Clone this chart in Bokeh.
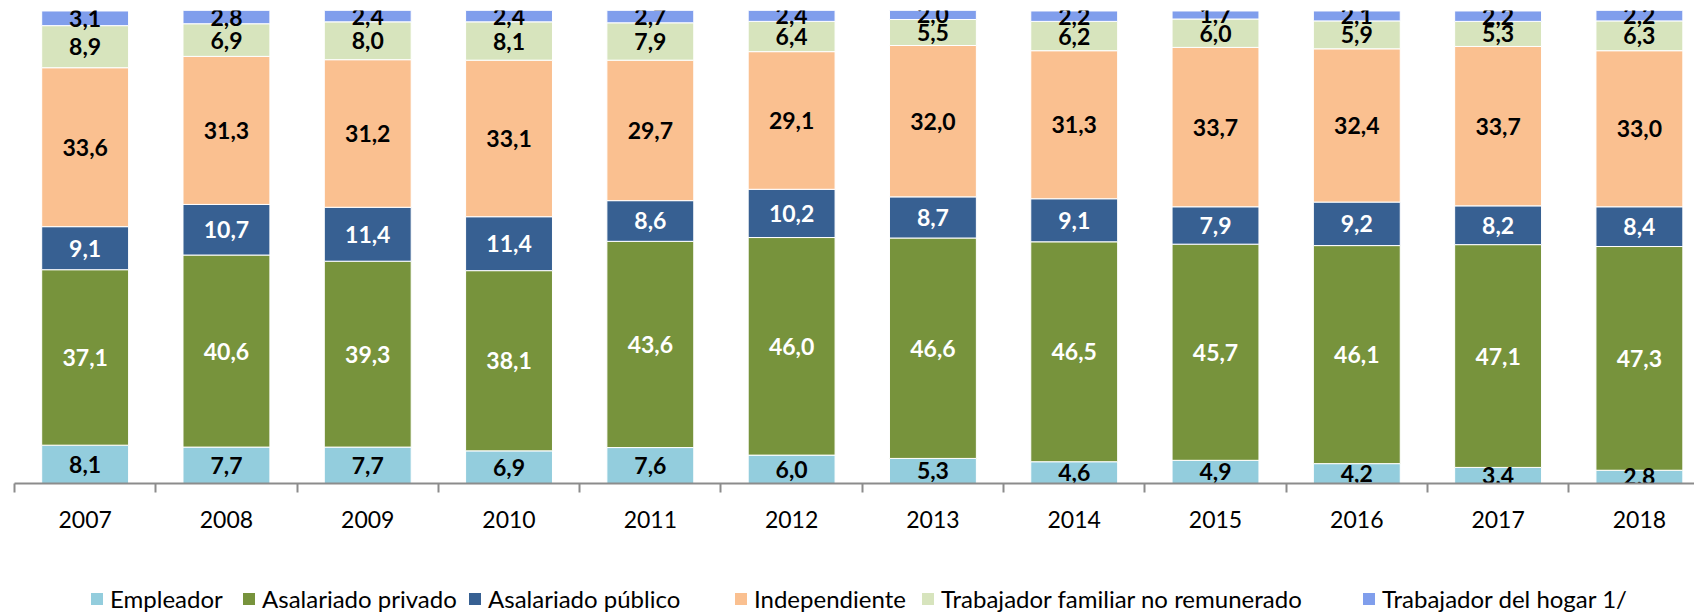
import numpy as np
from bokeh.plotting import figure
from bokeh.layouts import column
from bokeh.models import ColumnDataSource, Legend, LegendItem, FixedTicker, Range1d
from bokeh.core.properties import value
from bokeh.embed import file_html
from bokeh.resources import INLINE

years = ["2007", "2008", "2009", "2010", "2011", "2012", "2013", "2014", "2015", "2016", "2017", "2018"]
empleador = [8.1, 7.7, 7.7, 6.9, 7.6, 6.0, 5.3, 4.6, 4.9, 4.2, 3.4, 2.8]
asalariado_privado = [37.1, 40.6, 39.3, 38.1, 43.6, 46.0, 46.6, 46.5, 45.7, 46.1, 47.1, 47.3]
asalariado_publico = [9.1, 10.7, 11.4, 11.4, 8.6, 10.2, 8.7, 9.1, 7.9, 9.2, 8.2, 8.4]
independiente = [33.6, 31.3, 31.2, 33.1, 29.7, 29.1, 32.0, 31.3, 33.7, 32.4, 33.7, 33.0]
familiar = [8.9, 6.9, 8.0, 8.1, 7.9, 6.4, 5.5, 6.2, 6.0, 5.9, 5.3, 6.3]
hogar = [3.1, 2.8, 2.4, 2.4, 2.7, 2.4, 2.0, 2.2, 1.7, 2.1, 2.2, 2.2]

series_names = ["Empleador", "Asalariado privado", "Asalariado público", "Independiente",
                "Trabajador familiar no remunerado", "Trabajador del hogar 1/"]
series_values = [empleador, asalariado_privado, asalariado_publico, independiente, familiar, hogar]
colors = ["#93CDDD", "#77933C", "#376092", "#FAC090", "#D7E4BD", "#809EEC"]
label_colors = ["black", "white", "white", "black", "black", "black"]
legend_x = [75, 227, 453, 719, 906, 1347]   # legend box left offsets (px)

FONT = "Lato"
x = list(range(len(years)))
keys = ["s%d" % i for i in range(len(series_names))]
data = {"x": x}
for k, v in zip(keys, series_values):
    data[k] = v
source = ColumnDataSource(data)

p = figure(width=1694, height=560, output_backend="svg", toolbar_location=None,
           x_range=Range1d(-0.5, 11.39), y_range=Range1d(0, 100),
           min_border_left=14, min_border_right=0, min_border_top=10, min_border_bottom=77)

renderers = p.vbar_stack(keys, x="x", width=0.615, color=colors, source=source,
                         line_color="white", line_width=1)

# data labels
bottom = np.zeros(len(years))
for vals, lc in zip(series_values, label_colors):
    arr = np.array(vals)
    mid = bottom + arr / 2
    src = ColumnDataSource(dict(x=x, y=mid, t=[("%.1f" % v).replace(".", ",") for v in vals]))
    p.text(x="x", y="y", text="t", source=src, text_align="center", text_baseline="middle",
           text_font=value(FONT), text_font_style="bold", text_font_size="23px", text_color=lc)
    bottom = bottom + arr

p.yaxis.visible = False
p.xgrid.visible = False
p.ygrid.visible = False
p.outline_line_color = None

ax = p.xaxis[0]
ax.ticker = FixedTicker(ticks=x, minor_ticks=[i - 0.5 for i in range(len(years) + 1)])
ax.major_label_overrides = {i: y for i, y in enumerate(years)}
ax.major_tick_out = 0
ax.major_tick_in = 0
ax.minor_tick_out = 9
ax.minor_tick_in = 0
ax.minor_tick_line_color = "#8C8C8C"
ax.minor_tick_line_width = 2
ax.axis_line_color = "#8C8C8C"
ax.axis_line_width = 2
ax.major_label_text_font = FONT
ax.major_label_text_font_size = "23px"
ax.major_label_text_color = "black"
ax.major_label_standoff = 18

# legend strip below the chart (same data drawn out of view, legends only visible)
pl = figure(width=1694, height=53, output_backend="svg", toolbar_location=None,
            x_range=Range1d(-0.5, 11.39), y_range=Range1d(1000, 1001),
            min_border_left=0, min_border_right=0, min_border_top=0, min_border_bottom=0)
pl.axis.visible = False
pl.xgrid.visible = False
pl.ygrid.visible = False
pl.outline_line_color = None
leg_renderers = pl.vbar_stack(keys, x="x", width=0.615, color=colors, source=source, line_color=None)
for name, r, lx in zip(series_names, leg_renderers, legend_x):
    lg = Legend(items=[LegendItem(label=name, renderers=[r])],
                orientation="horizontal", location=(lx, 0),
                label_text_font=FONT, label_text_font_size="24px", label_text_color="black",
                glyph_width=15, glyph_height=15, label_standoff=6, spacing=0,
                padding=0, margin=0, border_line_color=None, background_fill_alpha=0)
    pl.add_layout(lg)

layout = column(p, pl, spacing=0)
open("out.html", "w").write(file_html(layout, INLINE))
